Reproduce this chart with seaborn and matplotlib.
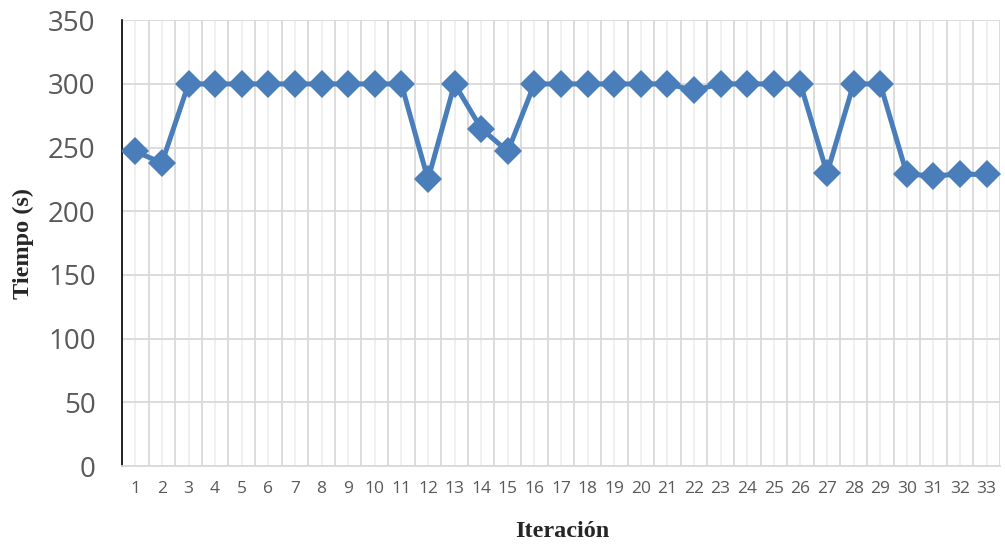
import matplotlib
matplotlib.use("Agg")
import matplotlib.pyplot as plt
import seaborn as sns
import pandas as pd
import numpy as np

iteracion = list(range(1, 34))
tiempo = [247, 238, 300, 300, 300, 300, 300, 300, 300, 300,
          300, 225, 300, 265, 247, 300, 300, 300, 300, 300,
          300, 295, 300, 300, 300, 300, 230, 300, 300, 229,
          228, 229, 229]
y_ticks = [0, 50, 100, 150, 200, 250, 300, 350]

blue = "#4A7EBB"

sns.set_style("white")
df = pd.DataFrame({"Iteración": iteracion, "Tiempo (s)": tiempo})

fig = plt.figure(figsize=(10.05, 5.47), dpi=100)
ax = fig.add_axes([0.1214, 0.148, 0.8736, 0.815])

sns.lineplot(data=df, x="Iteración", y="Tiempo (s)", ax=ax, color=blue,
             linewidth=3.6, marker="D", markersize=14.5, markeredgewidth=0,
             markerfacecolor=blue, zorder=3)

ax.set_xlim(0.5, 33.5)
ax.set_ylim(0, 350)
ax.set_yticks(y_ticks)
ax.set_xticks(iteracion)
ax.set_xticks(np.arange(0.5, 34, 1), minor=True)

# Excel style grid: dark lines between categories, lighter ones at centres
ax.grid(True, which="minor", axis="x", color="#D9D9D9", linewidth=1.3, zorder=0)
ax.grid(True, which="major", axis="x", color="#EEEEEE", linewidth=1.3, zorder=0)
ax.grid(True, which="major", axis="y", color="#D9D9D9", linewidth=1.3, zorder=0)
ax.set_axisbelow(True)

for s in ["top", "right"]:
    ax.spines[s].set_visible(False)
ax.spines["left"].set_color("black")
ax.spines["left"].set_linewidth(1.2)
ax.spines["bottom"].set_color("#D9D9D9")
ax.spines["bottom"].set_linewidth(1.3)

ax.tick_params(axis="both", which="both", length=0)
ax.tick_params(axis="y", labelsize=20, pad=19, labelcolor="#595959")
ax.tick_params(axis="x", labelsize=12.5, pad=11, labelcolor="#595959")
for lab in ax.get_xticklabels() + ax.get_yticklabels():
    lab.set_family(["Open Sans", "DejaVu Sans"])

ax.set_xlabel("Iteración", fontsize=17.5, fontweight="bold",
              family=["Liberation Serif", "DejaVu Serif"])
ax.set_ylabel("Tiempo (s)", fontsize=17.5, fontweight="bold",
              family=["Liberation Serif", "DejaVu Serif"])
ax.xaxis.set_label_coords(0.502, -0.123)
ax.yaxis.set_label_coords(-0.1, 0.5)

fig.savefig("out.png", dpi=100)
